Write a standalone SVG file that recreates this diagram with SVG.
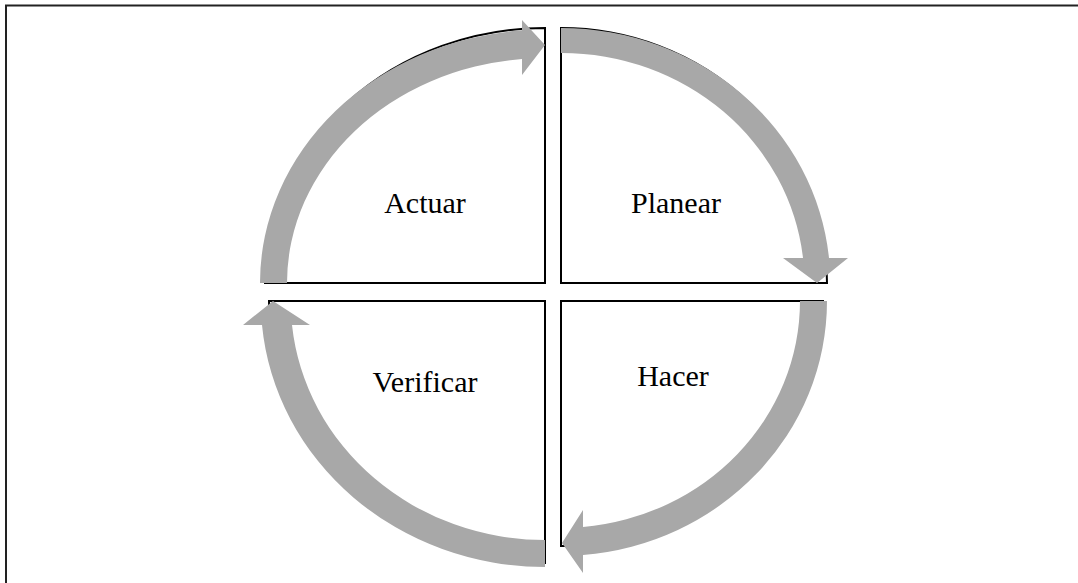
<svg xmlns="http://www.w3.org/2000/svg" width="1078" height="583" viewBox="0 0 1078 583">
<style>
.frame{fill:none;stroke:#222;stroke-width:2}
.quad{fill:#fff;stroke:#000;stroke-width:2;stroke-linejoin:miter}
.arrow{fill:#a8a8a8;stroke:none}
.label{font-family:"Liberation Serif","Times New Roman",serif;font-size:30px;fill:#000;text-anchor:middle}
</style>
<rect width="1078" height="583" fill="#fff"/>
<path class="frame" d="M6 583 V5.5 H1078"/>
<g id="actuar">
<path class="quad" d="M545 283 L265 283 A280 255 0 0 1 545 28 Z"/>
<text class="label" x="425" y="213">Actuar</text>
</g>
<g id="planear">
<path class="quad" d="M561 283 L561 28 A266 255 0 0 1 827 283 Z"/>
<text class="label" x="676" y="213">Planear</text>
</g>
<g id="hacer">
<path class="quad" d="M561 301 L823 301 A260 245 0 0 1 561 546 Z"/>
<text class="label" x="673" y="386">Hacer</text>
</g>
<g id="verificar">
<path class="quad" d="M545 301 L545 563 A276 262 0 0 1 269 301 Z"/>
<text class="label" x="425" y="392">Verificar</text>
</g>
<g id="connectors">
<path class="arrow" d="M260 283 A285 253.5 0 0 1 522 30.3 L522 20 L545 45 L522 75 L522 59 A258 225 0 0 0 287 283 Z"/>
<path class="arrow" d="M561 28 A269 255 0 0 1 829 258 L848 258 L817 283 L783 258 L803 258 A243 230 0 0 0 561 53 Z"/>
<path class="arrow" d="M827 301 A266 255 0 0 1 583 555 L583 573 L562 543 L583 510 L583 527 A239 227 0 0 0 800 301 Z"/>
<path class="arrow" d="M545 567 A284 266 0 0 1 262 325 L243 325 L273 301 L310 325 L292 325 A254 239 0 0 0 545 540 Z"/>
</g>
</svg>
